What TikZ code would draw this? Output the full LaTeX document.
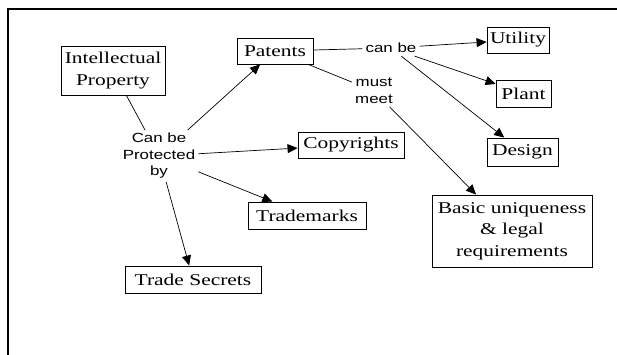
\documentclass[tikz,border=0pt]{standalone}
\usepackage{fontspec}
\setmainfont{Liberation Serif}[FakeStretch=1.3]
\newfontfamily\labfont{Liberation Sans}[FakeStretch=1.27]
\usetikzlibrary{arrows.meta}
\begin{document}
\begin{tikzpicture}[x=1pt,y=-1pt,
  box/.style={draw,line width=0.9pt,inner sep=0pt,align=center,
    font=\fontsize{16.5}{21.7}\selectfont},
  lab/.style={inner sep=3pt,align=center,font=\labfont\fontsize{13.3}{16.5}\selectfont},
  con/.style={line width=0.7pt},
  arr/.style={con,-{Triangle[length=10pt,width=9pt]}},
  frame/.style={line width=1.6pt}]
\useasboundingbox (0,0) rectangle (617,355);
\coordinate (fa) at (617,9);
\coordinate (fb) at (8,9);
\coordinate (fc) at (8,355);
\draw[frame] (fa) -- (fb) -- (fc);

\node[box,minimum width=104pt,minimum height=49pt] (ip) at (113,70.5) {Intellectual\\Property};
\node[box,minimum width=76pt,minimum height=26pt] (pat) at (275,51) {Patents};
\node[box,minimum width=62pt,minimum height=26pt] (uti) at (518,40) {Utility};
\node[box,minimum width=55pt,minimum height=27pt] (pla) at (523.5,93.5) {Plant};
\node[box,minimum width=71pt,minimum height=28pt] (des) at (522.5,152) {Design};
\node[box,minimum width=106pt,minimum height=26pt] (cop) at (351,145) {Copyrights};
\node[box,minimum width=118pt,minimum height=27pt] (tm) at (307,215.5) {Trademarks};
\node[box,minimum width=136pt,minimum height=27pt] (ts) at (193,279.5) {Trade Secrets};
\node[box,minimum width=160pt,minimum height=72pt] (bas) at (512,231) {Basic uniqueness\\\& legal\\requirements};

\node[lab] (cp) at (159,156) {Can be\\Protected\\by};
\node[lab] (cb) at (391,48) {can be};
\node[lab] (mm) at (374,91) {must\\meet};

\draw[con] (ip) -- (cp);
\draw[arr] (cp) -- (pat);
\draw[arr] (cp) -- (cop);
\draw[arr] (cp) -- (tm);
\draw[arr] (cp) -- (ts);
\draw[con] (pat) -- (cb);
\draw[arr] (cb) -- (uti);
\draw[arr] (cb) -- (pla);
\draw[arr] (cb) -- (des);
\draw[con] (pat) -- (mm);
\draw[arr] (mm) -- (bas);
\end{tikzpicture}
\end{document}
